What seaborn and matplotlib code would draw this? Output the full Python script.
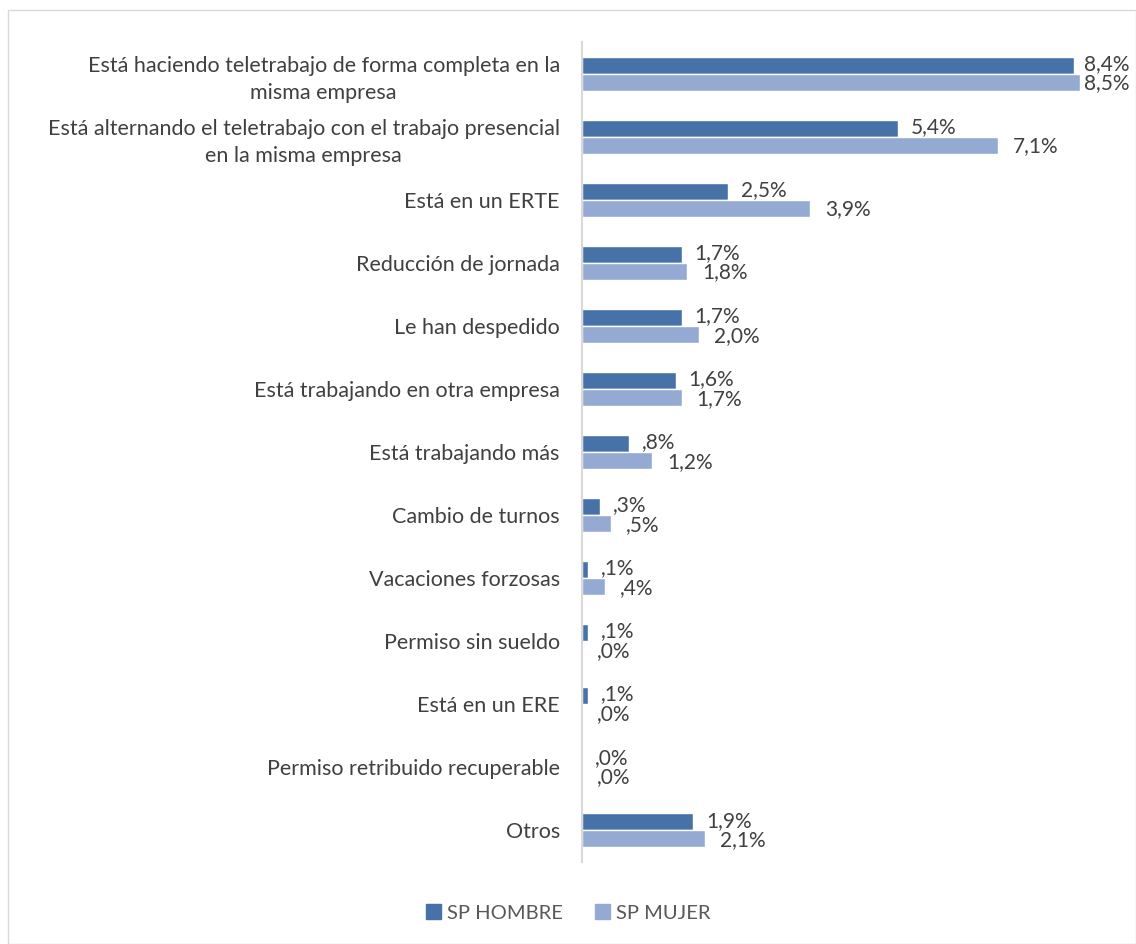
import pandas as pd
import numpy as np
import matplotlib
matplotlib.use("Agg")
import matplotlib.pyplot as plt
import seaborn as sns
from matplotlib.patches import Rectangle, Patch

# datos del grafico
categorias = [
    "Está haciendo teletrabajo de forma completa en la\nmisma empresa",
    "Está alternando el teletrabajo con el trabajo presencial\nen la misma empresa",
    "Está en un ERTE",
    "Reducción de jornada",
    "Le han despedido",
    "Está trabajando en otra empresa",
    "Está trabajando más",
    "Cambio de turnos",
    "Vacaciones forzosas",
    "Permiso sin sueldo",
    "Está en un ERE",
    "Permiso retribuido recuperable",
    "Otros",
]
hombre = [8.4, 5.4, 2.5, 1.7, 1.7, 1.6, 0.8, 0.3, 0.1, 0.1, 0.1, 0.0, 1.9]
mujer = [8.5, 7.1, 3.9, 1.8, 2.0, 1.7, 1.2, 0.5, 0.4, 0.0, 0.0, 0.0, 2.1]
series = ["SP HOMBRE", "SP MUJER"]
colores = ["#4672a8", "#95aad2"]

df = pd.DataFrame({
    "cat": categorias * 2,
    "valor": hombre + mujer,
    "serie": [series[0]] * len(categorias) + [series[1]] * len(categorias),
})

sns.set_style("white")
plt.rcParams["font.family"] = ["Lato", "DejaVu Sans"]

fig = plt.figure(figsize=(11.36, 9.44), dpi=100)
ax = fig.add_axes([582 / 1136, 1 - 862 / 944, 498 / 1136, 820 / 944])

sns.barplot(data=df, y="cat", x="valor", hue="serie", orient="h",
            palette=colores, width=0.54, ax=ax, legend=False, saturation=1)

ax.set_xlim(0, 8.5)
ax.set_ylim(12.5, -0.5)
ax.set_xlabel("")
ax.set_ylabel("")
ax.set_xticks([])
ax.tick_params(axis="y", length=0, pad=16, labelsize=15.5, labelcolor="#404040")
for lbl in ax.get_yticklabels():
    lbl.set_multialignment("center")
    lbl.set_linespacing(1.45)
for s in ["top", "right", "bottom"]:
    ax.spines[s].set_visible(False)
ax.spines["left"].set_color("#d9d9d9")
ax.spines["left"].set_linewidth(1.5)


def fmt(v):
    t = f"{v:.1f}".replace(".", ",")
    if t.startswith("0,"):
        t = t[1:]
    return t + "%"


bw = 0.27
xmax_lbl = 8.56  # que no se salga por la derecha
for i in range(len(categorias)):
    ax.text(min(hombre[i] + 0.22, xmax_lbl), i - bw / 2 - 0.02, fmt(hombre[i]),
            va="center", ha="left", fontsize=15, color="#404040", clip_on=False)
    ax.text(min(mujer[i] + 0.25, xmax_lbl), i + bw / 2 + 0.02, fmt(mujer[i]),
            va="center", ha="left", fontsize=15, color="#404040", clip_on=False)

handles = [Patch(color=c, label=s) for c, s in zip(colores, series)]
fig.legend(handles=handles, loc="center", bbox_to_anchor=(0.5, 1 - 913 / 944),
           ncol=2, frameon=False, fontsize=14.5, handlelength=0.75, handleheight=0.75,
           handletextpad=0.3, columnspacing=1.6, labelcolor="#595959")

fig.patches.append(Rectangle((8 / 1136, 0), 1 - 8 / 1136, 1 - 10 / 944,
                             transform=fig.transFigure, fill=False,
                             edgecolor="#d9d9d9", linewidth=1))

fig.savefig("out.png", dpi=100)
